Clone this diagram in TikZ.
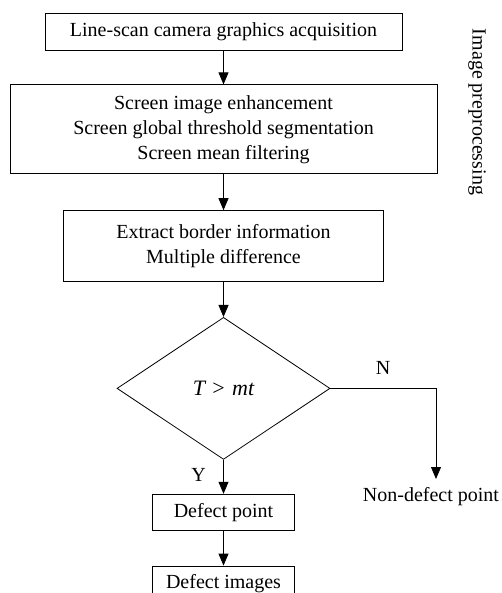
\documentclass[tikz,border=0pt]{standalone}
\usepackage{fontspec}
\setmainfont{Liberation Serif}
\usepackage{tikz}
\usetikzlibrary{arrows.meta,positioning,shapes.geometric,calc}
\tikzset{
  stepbox/.style={rectangle,draw=black,line width=0.8pt,fill=white,
    font=\fontsize{20}{25}\selectfont,align=center,inner sep=0pt},
  decision/.style={diamond,draw=black,line width=0.8pt,fill=white,
    minimum width=213pt,minimum height=142pt,inner sep=0pt,
    font=\fontsize{22}{26}\selectfont},
  plain/.style={font=\fontsize{20}{25}\selectfont,inner sep=2pt},
  arrow/.style={-{Triangle[length=12pt,width=10pt]},line width=0.8pt},
  lbl/.style={font=\fontsize{20}{25}\selectfont}
}
\begin{document}
\begin{tikzpicture}[x=1pt,y=1pt,node distance=35pt]
  \useasboundingbox (0,0) rectangle (501,-593);
  \node[stepbox,minimum width=357pt,minimum height=37pt] (acq) at (223.5,-31.5)
    {Line-scan camera graphics acquisition};
  \node[stepbox,minimum width=427pt,minimum height=89pt,below=34pt of acq] (pre)
    {Screen image enhancement\\Screen global threshold segmentation\\Screen mean filtering};
  \node[stepbox,minimum width=320pt,minimum height=71pt,below=36pt of pre] (border)
    {Extract border information\\Multiple difference};
  \node[decision,below=35pt of border] (dec) {{\itshape T}\,\,>\,\,{\itshape mt}};
  \node[stepbox,minimum width=142pt,minimum height=36pt,below=34pt of dec] (defpt) {Defect point};
  \node[stepbox,minimum width=142pt,minimum height=36pt,below=of defpt] (defimg) {Defect images};
  \node[plain,anchor=north] (nondef) at (431,-485) {Non-defect point};
  \node[lbl,rotate=-90] (prep) at (477,-112) {Image preprocessing};

  \draw[arrow] (acq) -- (pre);
  \draw[arrow] (pre) -- (border);
  \draw[arrow] (border) -- (dec);
  \draw[arrow] (dec) -- node[lbl,left,xshift=-14pt,yshift=2pt] {Y} (defpt);
  \draw[arrow] (defpt) -- (defimg);
  \draw[arrow] (dec.east) -| node[lbl,above,pos=0.25,yshift=10pt] {N} ($(nondef.north)+(5,6)$);
\end{tikzpicture}
\end{document}
